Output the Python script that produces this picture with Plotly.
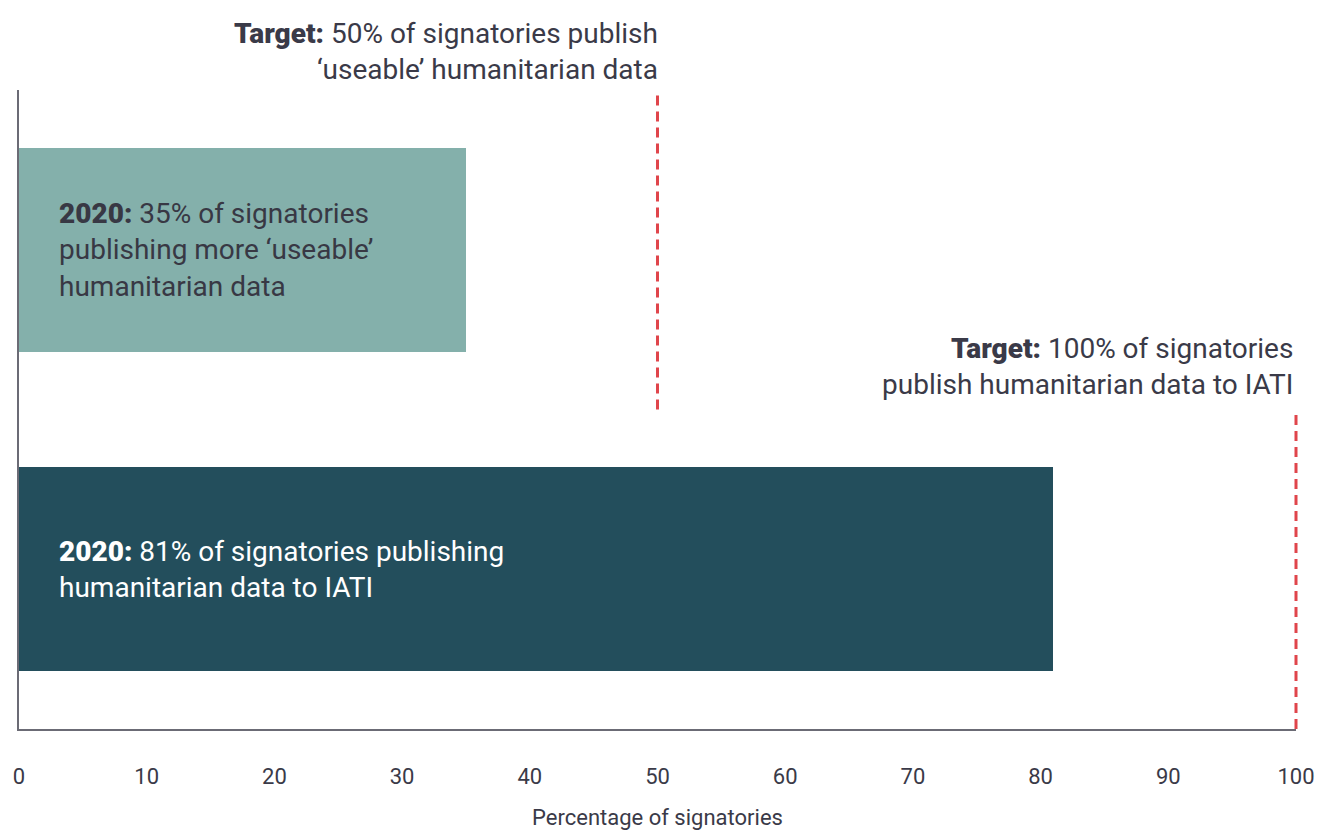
import plotly.graph_objects as go

categories = ["IATI", "Useable"]
values = [81, 35]
bar_colors = ["#234e5c", "#84b0ab"]
BOLD = '<span style="font-weight:900">'
bar_labels = [
    BOLD + "2020:</span> 81% of signatories publishing<br>humanitarian data to IATI",
    BOLD + "2020:</span> 35% of signatories<br>publishing more ‘useable’<br>humanitarian data",
]
label_colors = ["#ffffff", "#383844"]
targets = [100, 50]
target_labels = [
    BOLD + "Target:</span> 100% of signatories<br>publish humanitarian data to IATI",
    BOLD + "Target:</span> 50% of signatories publish<br>‘useable’ humanitarian data",
]
tick_vals = list(range(0, 101, 10))
x_max = 100

FONT = "Roboto"
TXT = "#3a3a48"
RED = "#e0454b"

ypos = [0, 1]
line_spans = [(-0.5, 0.49), (0.5, 1.49)]

fig = go.Figure()
fig.add_trace(go.Bar(
    y=ypos, x=values, orientation="h", width=0.64,
    marker=dict(color=bar_colors, line=dict(width=0)),
    hoverinfo="skip", showlegend=False,
))

# target lines (domain-referenced in x so the line at the axis end isn't clipped)
for t, (y0, y1) in zip(targets, line_spans):
    fig.add_shape(type="line", xref="x domain", yref="y",
                  x0=t / x_max, x1=t / x_max, y0=y0, y1=y1,
                  line=dict(color=RED, width=3, dash="10px,6px"), layer="above")

annotations = []
for i, y in enumerate(ypos):
    annotations.append(dict(
        x=3.0, y=y, xref="x", yref="y", text=bar_labels[i], showarrow=False,
        xanchor="left", yanchor="middle", align="left",
        font=dict(family=FONT, size=28, color=label_colors[i]),
    ))

annotations.append(dict(
    x=targets[0], y=0.52, xref="x", yref="y", text=target_labels[0], showarrow=False,
    xanchor="right", yanchor="bottom", align="right", xshift=-1,
    font=dict(family=FONT, size=28, color=TXT),
))
annotations.append(dict(
    x=targets[1], y=1.0, xref="x", yref="paper", text=target_labels[1], showarrow=False,
    xanchor="right", yanchor="bottom", align="right", yshift=2, xshift=2,
    font=dict(family=FONT, size=28, color=TXT),
))

fig.update_layout(
    width=1317, height=830,
    margin=dict(l=19, r=21, t=90, b=101),
    paper_bgcolor="white", plot_bgcolor="white",
    bargap=0,
    annotations=annotations,
    font=dict(family=FONT, color=TXT),
    xaxis=dict(
        range=[0, x_max], tickvals=tick_vals, ticktext=[str(v) for v in tick_vals],
        showgrid=False, zeroline=False, showline=True, linecolor="#6b6b75", linewidth=2,
        ticks="", ticklabelstandoff=27, automargin=False,
        tickfont=dict(family=FONT, size=22, color=TXT),
        title=dict(text="Percentage of signatories", standoff=22,
                   font=dict(family=FONT, size=22, color=TXT)),
        fixedrange=True,
    ),
    yaxis=dict(
        range=[-0.5, 1.5], showticklabels=False, showgrid=False, zeroline=False,
        showline=True, linecolor="#6b6b75", linewidth=2, ticks="", fixedrange=True,
        automargin=False,
    ),
)

fig.write_html(
    "out.html",
    config={"displayModeBar": False},
    post_script="document.body.style.margin='0px';document.body.style.overflow='hidden';",
)
